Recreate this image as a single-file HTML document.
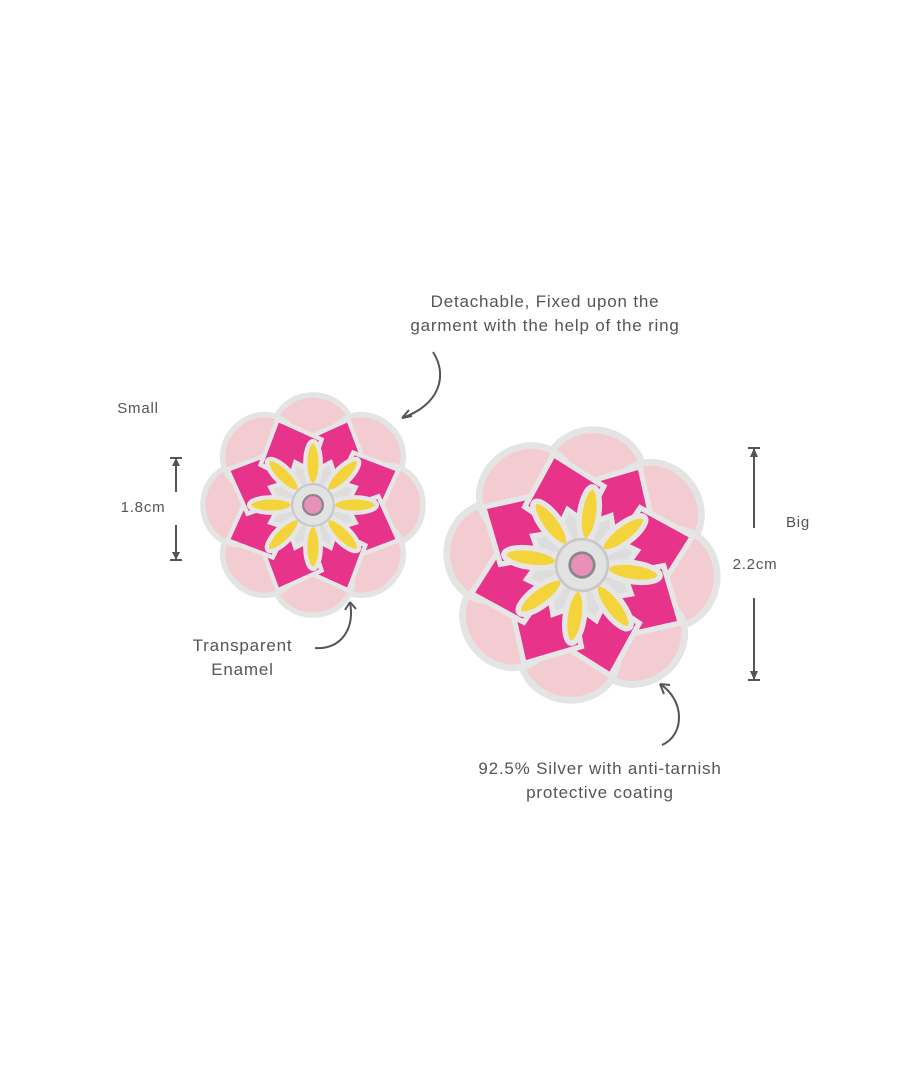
<!DOCTYPE html>
<html><head><style>
body{margin:0;background:#fff;}
.w{position:relative;width:900px;height:1080px;overflow:hidden;background:#fff;font-family:"Liberation Sans",sans-serif;color:#555;}
.t{position:absolute;font-size:17px;letter-spacing:0.8px;text-align:center;line-height:24px;}
</style></head><body><div class="w">
<svg width="900" height="1080" style="position:absolute;left:0;top:0">
<defs>
<g id="fl">
 <g stroke="#e4e4e4" stroke-width="5">
  <g id="op"><ellipse cx="0" cy="-68" rx="36" ry="32" fill="#f2ccd0"/></g>
  <use href="#op" transform="rotate(45)"/><use href="#op" transform="rotate(90)"/><use href="#op" transform="rotate(135)"/>
  <use href="#op" transform="rotate(180)"/><use href="#op" transform="rotate(225)"/><use href="#op" transform="rotate(270)"/><use href="#op" transform="rotate(315)"/>
 </g>
 <circle r="62" fill="#f0b8c8"/>
 <g stroke="#e6e6e6" stroke-width="4">
  <g id="pp"><path d="M0,-84 L30,-52 L0,-18 L-30,-52 Z" fill="#e8338a" transform="rotate(22.5)"/></g>
  <use href="#pp" transform="rotate(45)"/><use href="#pp" transform="rotate(90)"/><use href="#pp" transform="rotate(135)"/>
  <use href="#pp" transform="rotate(180)"/><use href="#pp" transform="rotate(225)"/><use href="#pp" transform="rotate(270)"/><use href="#pp" transform="rotate(315)"/>
  <g id="sp"><path d="M0,-15 L10,-30 L0,-42 L-10,-30Z" fill="#ddd" transform="rotate(22.5)"/></g>
  <use href="#sp" transform="rotate(45)"/><use href="#sp" transform="rotate(90)"/><use href="#sp" transform="rotate(135)"/>
  <use href="#sp" transform="rotate(180)"/><use href="#sp" transform="rotate(225)"/><use href="#sp" transform="rotate(270)"/><use href="#sp" transform="rotate(315)"/>
  <g id="yp"><ellipse cx="0" cy="-38" rx="7" ry="20" fill="#f4d43a"/></g>
  <use href="#yp" transform="rotate(45)"/><use href="#yp" transform="rotate(90)"/><use href="#yp" transform="rotate(135)"/>
  <use href="#yp" transform="rotate(180)"/><use href="#yp" transform="rotate(225)"/><use href="#yp" transform="rotate(270)"/><use href="#yp" transform="rotate(315)"/>
 </g>
 <circle r="19" fill="#e2e2e2" stroke="#c8c8c8" stroke-width="2"/>
 <circle r="9" fill="#e890b8" stroke="#888" stroke-width="2"/>
</g>
</defs>
<g transform="translate(313,505) scale(1.1)"><use href="#fl"/></g>
<g transform="translate(582,565) scale(1.36) rotate(8)"><use href="#fl"/></g>
<g stroke="#555" stroke-width="2" fill="none">
 <path d="M433,352 C448,375 440,405 402,418"/><path d="M402,418 l10,-2 M402,418 l7,-8"/>
 <path d="M315,648 C340,650 355,630 350,602"/><path d="M350,602 l-5,8 M350,602 l6,7"/>
 <path d="M662,745 C685,735 685,700 660,684"/><path d="M660,684 l4,10 M660,684 l10,1"/>
 <path d="M176,458 V492 M176,525 V560"/><path d="M170,458h12M170,560h12"/>
 <path d="M754,448 V528 M754,598 V680"/><path d="M748,448h12M748,680h12"/>
</g>
<g fill="#555"><path d="M176,458 l-4,8 h8z"/><path d="M176,560 l-4,-8 h8z"/><path d="M754,448 l-4,9 h8z"/><path d="M754,680 l-4,-9 h8z"/></g>
</svg>
<div class="t" style="left:370px;top:290px;width:350px">Detachable, Fixed upon the<br>garment with the help of the ring</div>
<div class="t" style="left:100px;top:397px;width:76px;font-size:15px">Small</div>
<div class="t" style="left:105px;top:496px;width:76px;font-size:15px">1.8cm</div>
<div class="t" style="left:170px;top:634px;width:145px">Transparent<br>Enamel</div>
<div class="t" style="left:770px;top:511px;width:56px;font-size:15px">Big</div>
<div class="t" style="left:722px;top:553px;width:66px;font-size:15px">2.2cm</div>
<div class="t" style="left:430px;top:757px;width:340px">92.5% Silver with anti-tarnish<br>protective coating</div>
</div></body></html>
